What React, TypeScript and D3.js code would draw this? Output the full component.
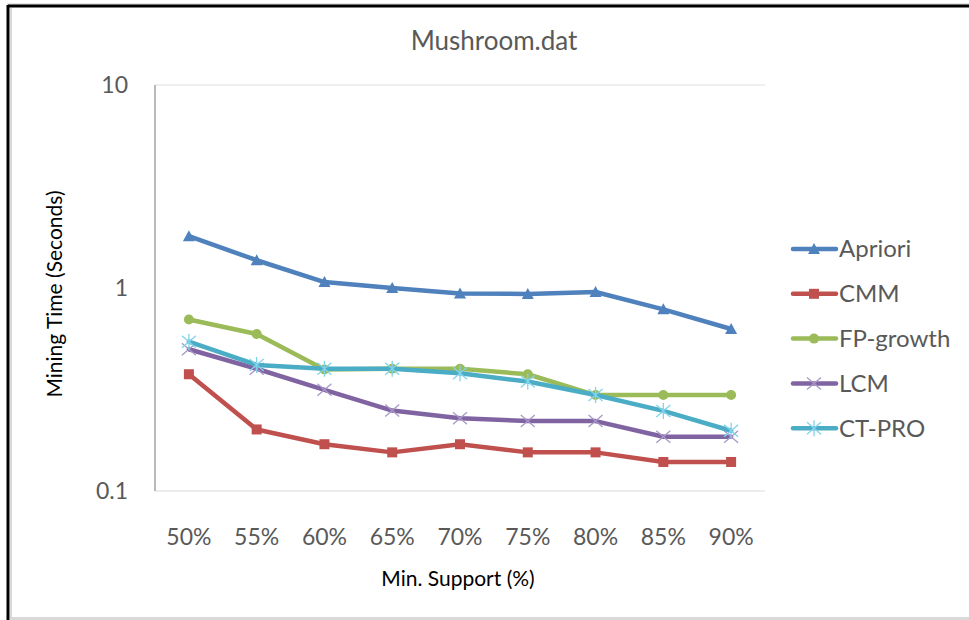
import React from "react";
import * as d3 from "d3";

// Minimum support levels on the x axis
const supports = ["50%", "55%", "60%", "65%", "70%", "75%", "80%", "85%", "90%"];

// Mining time in seconds per algorithm
const apriori = [1.8, 1.37, 1.07, 1.0, 0.94, 0.934, 0.956, 0.785, 0.628];
const cmm = [0.376, 0.201, 0.17, 0.155, 0.17, 0.155, 0.155, 0.139, 0.139];
const fpGrowth = [0.7, 0.593, 0.397, 0.4, 0.4, 0.376, 0.297, 0.297, 0.297];
const lcm = [0.499, 0.4, 0.315, 0.249, 0.228, 0.221, 0.221, 0.185, 0.185];
const ctPro = [0.544, 0.418, 0.4, 0.4, 0.38, 0.346, 0.297, 0.248, 0.198];

const yTicks = [0.1, 1, 10];

type Marker = "triangle" | "square" | "circle" | "x" | "star";

const seriesList: { name: string; values: number[]; color: string; markerColor: string; marker: Marker }[] = [
  { name: "Apriori", values: apriori, color: "#4F81BD", markerColor: "#4F81BD", marker: "triangle" },
  { name: "CMM", values: cmm, color: "#C0504D", markerColor: "#C0504D", marker: "square" },
  { name: "FP-growth", values: fpGrowth, color: "#9BBB59", markerColor: "#9BBB59", marker: "circle" },
  { name: "LCM", values: lcm, color: "#8064A2", markerColor: "#A898C8", marker: "x" },
  { name: "CT-PRO", values: ctPro, color: "#4BACC6", markerColor: "#80D4EA", marker: "star" },
];

const W = 969;
const H = 620;
const plot = { left: 155, right: 765, top: 85, bottom: 491 };
const FONT = "Lato, 'Open Sans', sans-serif";
const TEXT = "#595959";

function MarkerShape({ type, x, y, color }: { type: Marker; x: number; y: number; color: string }) {
  switch (type) {
    case "triangle":
      return <path d={`M${x},${y - 6}L${x + 6},${y + 5}L${x - 6},${y + 5}Z`} fill={color} />;
    case "square":
      return <rect x={x - 5} y={y - 5} width={10} height={10} fill={color} />;
    case "circle":
      return <circle cx={x} cy={y} r={5} fill={color} />;
    case "x":
      return (
        <path
          d={`M${x - 7},${y - 6}L${x + 7},${y + 6}M${x - 7},${y + 6}L${x + 7},${y - 6}`}
          stroke={color}
          strokeWidth={1.3}
          fill="none"
        />
      );
    case "star":
      return (
        <path
          d={`M${x - 7},${y - 6}L${x + 7},${y + 6}M${x - 7},${y + 6}L${x + 7},${y - 6}M${x},${y - 8}L${x},${y + 8}`}
          stroke={color}
          strokeWidth={1.3}
          fill="none"
        />
      );
  }
}

export default function App() {
  const x = d3.scaleBand<string>().domain(supports).range([plot.left, plot.right]);
  const cx = (s: string) => (x(s) ?? 0) + x.bandwidth() / 2;
  const y = d3.scaleLog().domain([0.1, 10]).range([plot.bottom, plot.top]);
  const line = d3
    .line<number>()
    .x((_, i) => cx(supports[i]))
    .y((v) => y(v));

  const legendX = 793;
  const legendY0 = 249;
  const legendStep = 44.8;

  return (
    <svg
      width={W}
      height={H}
      style={{ position: "absolute", left: 0, top: 0, background: "#fff" }}
      fontFamily={FONT}
    >
      {/* outer frame */}
      <rect x={0} y={0} width={W} height={H} fill="#fff" />
      <line x1={7} x2={W} y1={4} y2={4} stroke="#c8c8c8" strokeWidth={1} />
      <line x1={8} x2={W} y1={6} y2={6} stroke="#000" strokeWidth={3} />
      <line x1={8} x2={8} y1={5} y2={H} stroke="#000" strokeWidth={3} />
      <line x1={11} x2={11} y1={8} y2={H} stroke="#d8d8d8" strokeWidth={2} />
      <rect x={10} y={617} width={W} height={3} fill="#d9d9d9" />

      <text x={494} y={50} textAnchor="middle" fontSize={26} fill={TEXT}>
        Mushroom.dat
      </text>

      {/* gridline at top and x axis */}
      <line x1={plot.left} x2={plot.right} y1={y(10)} y2={y(10)} stroke="#e0e0e0" strokeWidth={1.2} />
      <line x1={plot.left} x2={plot.right} y1={y(0.1)} y2={y(0.1)} stroke="#dcdcdc" strokeWidth={1.2} />
      <line x1={plot.left} x2={plot.left} y1={y(10)} y2={y(0.1)} stroke="#8c8c8c" strokeWidth={1.2} />

      {yTicks.map((t) => (
        <text key={t} x={128} y={y(t)} dy="0.35em" textAnchor="end" fontSize={23} fill={TEXT}>
          {String(t)}
        </text>
      ))}

      {supports.map((s) => (
        <text key={s} x={cx(s)} y={545} textAnchor="middle" fontSize={23} fill={TEXT}>
          {s}
        </text>
      ))}

      <text x={458} y={586} textAnchor="middle" fontSize={21} fill="#000">
        Min. Support (%)
      </text>
      <text
        transform={`translate(62,294) rotate(-90)`}
        textAnchor="middle"
        fontSize={21}
        fill="#000"
      >
        Mining Time (Seconds)
      </text>

      {seriesList.map((s) => (
        <g key={s.name}>
          <path d={line(s.values) ?? ""} fill="none" stroke={s.color} strokeWidth={4.5} strokeLinejoin="round" strokeLinecap="round" />
          {s.values.map((v, i) => (
            <MarkerShape key={i} type={s.marker} x={cx(supports[i])} y={y(v)} color={s.markerColor} />
          ))}
        </g>
      ))}

      {seriesList.map((s, i) => {
        const ly = legendY0 + i * legendStep;
        return (
          <g key={s.name}>
            <line x1={legendX} x2={legendX + 43} y1={ly} y2={ly} stroke={s.color} strokeWidth={4.5} strokeLinecap="round" />
            <MarkerShape type={s.marker} x={legendX + 21} y={ly} color={s.markerColor} />
            <text x={legendX + 46} y={ly} dy="0.35em" fontSize={24} fill={TEXT}>
              {s.name}
            </text>
          </g>
        );
      })}
    </svg>
  );
}
